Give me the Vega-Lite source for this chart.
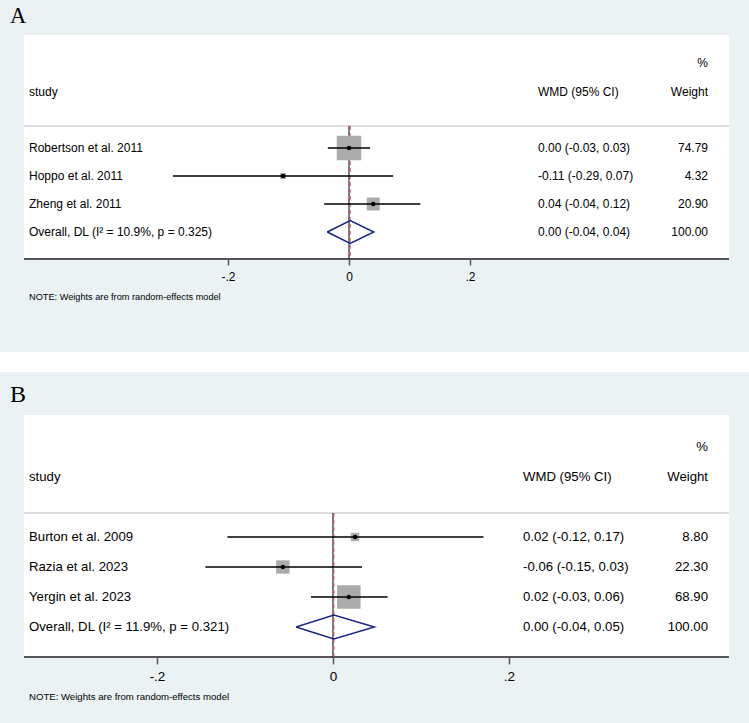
{
  "$schema": "https://vega.github.io/schema/vega-lite/v6.json",
  "padding": 0,
  "background": "white",
  "spacing": 20,
  "config": {"view": {"stroke": null}, "font": "Liberation Sans"},
  "datasets": {
    "studiesA": [
      {"label": "Robertson et al. 2011", "kind": "study", "row": 1, "est": 0.0, "lo": -0.035, "hi": 0.035, "w": 74.79, "ci": "0.00 (-0.03, 0.03)", "weight": "74.79"},
      {"label": "Hoppo et al. 2011", "kind": "study", "row": 2, "est": -0.109, "lo": -0.291, "hi": 0.073, "w": 4.32, "ci": "-0.11 (-0.29, 0.07)", "weight": "4.32"},
      {"label": "Zheng et al. 2011", "kind": "study", "row": 3, "est": 0.04, "lo": -0.041, "hi": 0.118, "w": 20.9, "ci": "0.04 (-0.04, 0.12)", "weight": "20.90"},
      {"label": "Overall, DL (I² = 10.9%, p = 0.325)", "kind": "overall", "row": 4, "est": 0.002, "lo": -0.036, "hi": 0.041, "w": 100, "ci": "0.00 (-0.04, 0.04)", "weight": "100.00"}
    ],
    "diamondA": [
      {"k": 1, "x": -0.036, "row": 4},
      {"k": 2, "x": 0.002, "row": 3.59},
      {"k": 3, "x": 0.041, "row": 4},
      {"k": 4, "x": 0.002, "row": 4.41},
      {"k": 5, "x": -0.036, "row": 4}
    ],
    "studiesB": [
      {"label": "Burton et al. 2009", "kind": "study", "row": 1, "est": 0.025, "lo": -0.12, "hi": 0.171, "w": 8.8, "ci": "0.02 (-0.12, 0.17)", "weight": "8.80"},
      {"label": "Razia et al. 2023", "kind": "study", "row": 2, "est": -0.057, "lo": -0.145, "hi": 0.033, "w": 22.3, "ci": "-0.06 (-0.15, 0.03)", "weight": "22.30"},
      {"label": "Yergin et al. 2023", "kind": "study", "row": 3, "est": 0.018, "lo": -0.025, "hi": 0.062, "w": 68.9, "ci": "0.02 (-0.03, 0.06)", "weight": "68.90"},
      {"label": "Overall, DL (I² = 11.9%, p = 0.321)", "kind": "overall", "row": 4, "est": 0.001, "lo": -0.042, "hi": 0.047, "w": 100, "ci": "0.00 (-0.04, 0.05)", "weight": "100.00"}
    ],
    "diamondB": [
      {"k": 1, "x": -0.042, "row": 4},
      {"k": 2, "x": 0.001, "row": 3.6},
      {"k": 3, "x": 0.047, "row": 4},
      {"k": 4, "x": 0.001, "row": 4.4},
      {"k": 5, "x": -0.042, "row": 4}
    ]
  },
  "vconcat": [
    {
      "width": 749,
      "height": 352,
      "view": {"fill": "#EAF2F3", "stroke": null},
      "layer": [
        {
          "data": {"values": [{}]},
          "mark": {"type": "rect", "fill": "white"},
          "encoding": {
            "x": {"datum": -0.5372, "type": "quantitative",
              "scale": {"domain": [-0.57686, 0.66116], "nice": false, "zero": false},
              "axis": {"values": [-0.2, 0, 0.2], "labelExpr": "datum.value == 0 ? '0' : (datum.value < 0 ? '-' : '') + slice(toString(abs(datum.value)), 1)", "domain": false, "grid": false, "ticks": true, "tickSize": 6, "tickWidth": 1.5, "tickColor": "#555555", "labelFont": "Liberation Sans", "labelFontSize": 12, "labelColor": "#000000", "labelPadding": 6, "title": null, "offset": -93}},
            "x2": {"datum": 0.6281},
            "y": {"datum": -3.036, "type": "quantitative",
              "scale": {"domain": [-4.2857, 8.2857], "nice": false, "zero": false, "reverse": true},
              "axis": null},
            "y2": {"datum": 4.964}
          }
        },
        {
          "data": {"values": [{}]},
          "mark": {"type": "rule", "color": "#BDBDBD", "strokeWidth": 1},
          "encoding": {"x": {"datum": -0.5372, "type": "quantitative"}, "x2": {"datum": 0.6281}, "y": {"datum": 0.214, "type": "quantitative"}}
        },
        {
          "data": {"values": [{}]},
          "mark": {"type": "rule", "color": "#555555", "strokeWidth": 2},
          "encoding": {"x": {"datum": -0.5372, "type": "quantitative"}, "x2": {"datum": 0.6281}, "y": {"datum": 4.964, "type": "quantitative"}}
        },
        {
          "data": {"values": [{}]},
          "mark": {"type": "rule", "color": "#000000", "strokeWidth": 1},
          "encoding": {"x": {"datum": 0, "type": "quantitative"}, "y": {"datum": 0.214, "type": "quantitative"}, "y2": {"datum": 4.964}}
        },
        {
          "data": {"name": "studiesA"},
          "transform": [{"filter": "datum.kind == 'overall'"}],
          "mark": {"type": "rule", "color": "#C8505A", "strokeWidth": 1, "strokeDash": [4, 3]},
          "encoding": {"x": {"field": "est", "type": "quantitative"}, "y": {"datum": 0.214, "type": "quantitative"}, "y2": {"datum": 4.964}}
        },
        {
          "data": {"name": "studiesA"},
          "transform": [{"filter": "datum.kind == 'study'"}],
          "mark": {"type": "square", "filled": true, "color": "#ABABAB", "opacity": 1},
          "encoding": {
            "x": {"field": "est", "type": "quantitative"},
            "y": {"field": "row", "type": "quantitative"},
            "size": {"field": "w", "type": "quantitative", "scale": {"domain": [0, 74.79], "range": [0, 600]}, "legend": null}
          }
        },
        {
          "data": {"name": "studiesA"},
          "transform": [{"filter": "datum.kind == 'study'"}],
          "mark": {"type": "rule", "color": "#000000", "strokeWidth": 1.5},
          "encoding": {"x": {"field": "lo", "type": "quantitative"}, "x2": {"field": "hi"}, "y": {"field": "row", "type": "quantitative"}}
        },
        {
          "data": {"name": "studiesA"},
          "transform": [{"filter": "datum.kind == 'study'"}],
          "mark": {"type": "circle", "color": "#000000", "size": 20, "opacity": 1},
          "encoding": {"x": {"field": "est", "type": "quantitative"}, "y": {"field": "row", "type": "quantitative"}}
        },
        {
          "data": {"name": "diamondA"},
          "mark": {"type": "line", "color": "#1B2584", "strokeWidth": 1.5},
          "encoding": {"x": {"field": "x", "type": "quantitative"}, "y": {"field": "row", "type": "quantitative"}, "order": {"field": "k"}}
        },
        {
          "data": {"name": "studiesA"},
          "mark": {"type": "text", "align": "left", "baseline": "middle", "font": "Liberation Sans", "fontSize": 12, "color": "#000000"},
          "encoding": {"x": {"datum": -0.5289, "type": "quantitative"}, "y": {"field": "row", "type": "quantitative"}, "text": {"field": "label"}}
        },
        {
          "data": {"name": "studiesA"},
          "mark": {"type": "text", "align": "left", "baseline": "middle", "font": "Liberation Sans", "fontSize": 12, "color": "#000000"},
          "encoding": {"x": {"datum": 0.3124, "type": "quantitative"}, "y": {"field": "row", "type": "quantitative"}, "text": {"field": "ci"}}
        },
        {
          "data": {"name": "studiesA"},
          "mark": {"type": "text", "align": "right", "baseline": "middle", "font": "Liberation Sans", "fontSize": 12, "color": "#000000"},
          "encoding": {"x": {"datum": 0.5934, "type": "quantitative"}, "y": {"field": "row", "type": "quantitative"}, "text": {"field": "weight"}}
        },
        {
          "data": {"values": [{"t": "study"}]},
          "mark": {"type": "text", "align": "left", "baseline": "middle", "font": "Liberation Sans", "fontSize": 12, "color": "#000000"},
          "encoding": {"x": {"datum": -0.5289, "type": "quantitative"}, "y": {"datum": -1, "type": "quantitative"}, "text": {"field": "t"}}
        },
        {
          "data": {"values": [{"t": "WMD (95% CI)"}]},
          "mark": {"type": "text", "align": "left", "baseline": "middle", "font": "Liberation Sans", "fontSize": 12, "color": "#000000"},
          "encoding": {"x": {"datum": 0.3124, "type": "quantitative"}, "y": {"datum": -1, "type": "quantitative"}, "text": {"field": "t"}}
        },
        {
          "data": {"values": [{"t": "Weight"}]},
          "mark": {"type": "text", "align": "right", "baseline": "middle", "font": "Liberation Sans", "fontSize": 12, "color": "#000000"},
          "encoding": {"x": {"datum": 0.5934, "type": "quantitative"}, "y": {"datum": -1, "type": "quantitative"}, "text": {"field": "t"}}
        },
        {
          "data": {"values": [{"t": "%"}]},
          "mark": {"type": "text", "align": "right", "baseline": "middle", "font": "Liberation Sans", "fontSize": 12, "color": "#000000"},
          "encoding": {"x": {"datum": 0.5934, "type": "quantitative"}, "y": {"datum": -2.036, "type": "quantitative"}, "text": {"field": "t"}}
        },
        {
          "data": {"values": [{"t": "NOTE: Weights are from random-effects model"}]},
          "mark": {"type": "text", "align": "left", "baseline": "middle", "font": "Liberation Sans", "fontSize": 9.2, "color": "#000000"},
          "encoding": {"x": {"datum": -0.5289, "type": "quantitative"}, "y": {"datum": 6.32, "type": "quantitative"}, "text": {"field": "t"}}
        },
        {
          "data": {"values": [{"t": "A"}]},
          "mark": {"type": "text", "align": "left", "baseline": "middle", "font": "Liberation Serif", "fontSize": 22.5, "color": "#000000"},
          "encoding": {"x": {"datum": -0.5603, "type": "quantitative"}, "y": {"datum": -3.714, "type": "quantitative"}, "text": {"field": "t"}}
        }
      ]
    },
    {
      "width": 749,
      "height": 351,
      "view": {"fill": "#EAF2F3", "stroke": null},
      "layer": [
        {
          "data": {"values": [{}]},
          "mark": {"type": "rect", "fill": "white"},
          "encoding": {
            "x": {"datum": -0.35114, "type": "quantitative",
              "scale": {"domain": [-0.37841, 0.47273], "nice": false, "zero": false},
              "axis": {"values": [-0.2, 0, 0.2], "labelExpr": "datum.value == 0 ? '0' : (datum.value < 0 ? '-' : '') + slice(toString(abs(datum.value)), 1)", "domain": false, "grid": false, "ticks": true, "tickSize": 7, "tickWidth": 1.5, "tickColor": "#555555", "labelFont": "Liberation Sans", "labelFontSize": 13.5, "labelColor": "#000000", "labelPadding": 5, "title": null, "offset": -66}},
            "x2": {"datum": 0.45},
            "y": {"datum": -3.0667, "type": "quantitative",
              "scale": {"domain": [-4.5, 7.2], "nice": false, "zero": false, "reverse": true},
              "axis": null},
            "y2": {"datum": 5}
          }
        },
        {
          "data": {"values": [{}]},
          "mark": {"type": "rule", "color": "#BDBDBD", "strokeWidth": 1},
          "encoding": {"x": {"datum": -0.35114, "type": "quantitative"}, "x2": {"datum": 0.45}, "y": {"datum": 0.2, "type": "quantitative"}}
        },
        {
          "data": {"values": [{}]},
          "mark": {"type": "rule", "color": "#555555", "strokeWidth": 2},
          "encoding": {"x": {"datum": -0.35114, "type": "quantitative"}, "x2": {"datum": 0.45}, "y": {"datum": 5, "type": "quantitative"}}
        },
        {
          "data": {"values": [{}]},
          "mark": {"type": "rule", "color": "#000000", "strokeWidth": 1},
          "encoding": {"x": {"datum": 0, "type": "quantitative"}, "y": {"datum": 0.2, "type": "quantitative"}, "y2": {"datum": 5}}
        },
        {
          "data": {"name": "studiesB"},
          "transform": [{"filter": "datum.kind == 'overall'"}],
          "mark": {"type": "rule", "color": "#C8505A", "strokeWidth": 1, "strokeDash": [4, 3]},
          "encoding": {"x": {"field": "est", "type": "quantitative"}, "y": {"datum": 0.2, "type": "quantitative"}, "y2": {"datum": 5}}
        },
        {
          "data": {"name": "studiesB"},
          "transform": [{"filter": "datum.kind == 'study'"}],
          "mark": {"type": "square", "filled": true, "color": "#ABABAB", "opacity": 1},
          "encoding": {
            "x": {"field": "est", "type": "quantitative"},
            "y": {"field": "row", "type": "quantitative"},
            "size": {"field": "w", "type": "quantitative", "scale": {"domain": [0, 68.9], "range": [0, 256]}, "legend": null}
          }
        },
        {
          "data": {"name": "studiesB"},
          "transform": [{"filter": "datum.kind == 'study'"}],
          "mark": {"type": "rule", "color": "#000000", "strokeWidth": 1.5},
          "encoding": {"x": {"field": "lo", "type": "quantitative"}, "x2": {"field": "hi"}, "y": {"field": "row", "type": "quantitative"}}
        },
        {
          "data": {"name": "studiesB"},
          "transform": [{"filter": "datum.kind == 'study'"}],
          "mark": {"type": "circle", "color": "#000000", "size": 20, "opacity": 1},
          "encoding": {"x": {"field": "est", "type": "quantitative"}, "y": {"field": "row", "type": "quantitative"}}
        },
        {
          "data": {"name": "diamondB"},
          "mark": {"type": "line", "color": "#1B2584", "strokeWidth": 1.5},
          "encoding": {"x": {"field": "x", "type": "quantitative"}, "y": {"field": "row", "type": "quantitative"}, "order": {"field": "k"}}
        },
        {
          "data": {"name": "studiesB"},
          "mark": {"type": "text", "align": "left", "baseline": "middle", "font": "Liberation Sans", "fontSize": 13.2, "color": "#000000"},
          "encoding": {"x": {"datum": -0.34545, "type": "quantitative"}, "y": {"field": "row", "type": "quantitative"}, "text": {"field": "label"}}
        },
        {
          "data": {"name": "studiesB"},
          "mark": {"type": "text", "align": "left", "baseline": "middle", "font": "Liberation Sans", "fontSize": 13.2, "color": "#000000"},
          "encoding": {"x": {"datum": 0.2159, "type": "quantitative"}, "y": {"field": "row", "type": "quantitative"}, "text": {"field": "ci"}}
        },
        {
          "data": {"name": "studiesB"},
          "mark": {"type": "text", "align": "right", "baseline": "middle", "font": "Liberation Sans", "fontSize": 13.2, "color": "#000000"},
          "encoding": {"x": {"datum": 0.42614, "type": "quantitative"}, "y": {"field": "row", "type": "quantitative"}, "text": {"field": "weight"}}
        },
        {
          "data": {"values": [{"t": "study"}]},
          "mark": {"type": "text", "align": "left", "baseline": "middle", "font": "Liberation Sans", "fontSize": 13.2, "color": "#000000"},
          "encoding": {"x": {"datum": -0.34545, "type": "quantitative"}, "y": {"datum": -1, "type": "quantitative"}, "text": {"field": "t"}}
        },
        {
          "data": {"values": [{"t": "WMD (95% CI)"}]},
          "mark": {"type": "text", "align": "left", "baseline": "middle", "font": "Liberation Sans", "fontSize": 13.2, "color": "#000000"},
          "encoding": {"x": {"datum": 0.2159, "type": "quantitative"}, "y": {"datum": -1, "type": "quantitative"}, "text": {"field": "t"}}
        },
        {
          "data": {"values": [{"t": "Weight"}]},
          "mark": {"type": "text", "align": "right", "baseline": "middle", "font": "Liberation Sans", "fontSize": 13.2, "color": "#000000"},
          "encoding": {"x": {"datum": 0.42614, "type": "quantitative"}, "y": {"datum": -1, "type": "quantitative"}, "text": {"field": "t"}}
        },
        {
          "data": {"values": [{"t": "%"}]},
          "mark": {"type": "text", "align": "right", "baseline": "middle", "font": "Liberation Sans", "fontSize": 13.2, "color": "#000000"},
          "encoding": {"x": {"datum": 0.42614, "type": "quantitative"}, "y": {"datum": -2, "type": "quantitative"}, "text": {"field": "t"}}
        },
        {
          "data": {"values": [{"t": "NOTE: Weights are from random-effects model"}]},
          "mark": {"type": "text", "align": "left", "baseline": "middle", "font": "Liberation Sans", "fontSize": 9.6, "color": "#000000"},
          "encoding": {"x": {"datum": -0.34545, "type": "quantitative"}, "y": {"datum": 6.33, "type": "quantitative"}, "text": {"field": "t"}}
        },
        {
          "data": {"values": [{"t": "B"}]},
          "mark": {"type": "text", "align": "left", "baseline": "middle", "font": "Liberation Serif", "fontSize": 24, "color": "#000000"},
          "encoding": {"x": {"datum": -0.367, "type": "quantitative"}, "y": {"datum": -3.73, "type": "quantitative"}, "text": {"field": "t"}}
        }
      ]
    }
  ]
}
